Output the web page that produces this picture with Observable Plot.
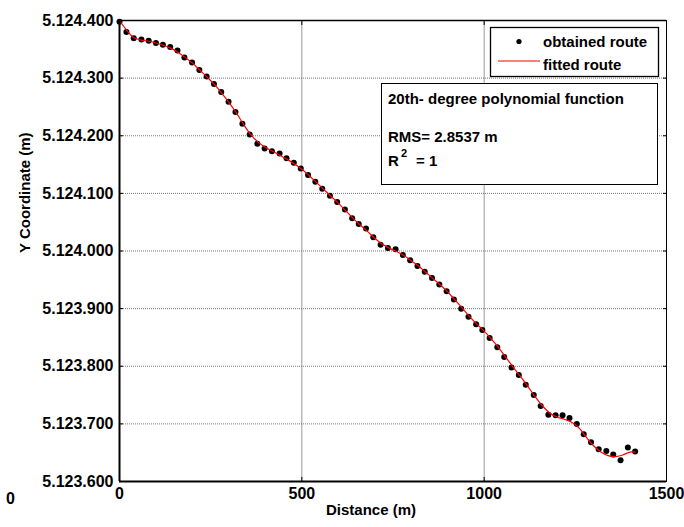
<!DOCTYPE html>
<html><head><meta charset="utf-8">
<script src="https://cdn.jsdelivr.net/npm/d3@7"></script>
<script src="https://cdn.jsdelivr.net/npm/@observablehq/plot@0.6"></script>
<style>
body{margin:0;background:#fff;}
#wrap{position:relative;width:684px;height:527px;font-family:"Liberation Sans",Arial,sans-serif;font-weight:bold;}
#overlay{position:absolute;left:0;top:0;pointer-events:none;}
</style></head><body><div id="wrap"></div>
<script>
// obtained route (distance in m, Y coordinate in m)
const distance = [0,19,39,60,80,100,119,139,159,178,199,219,239,259,279,299,318,337,357,378,
  398,418,439,458,478,497,517,537,556,577,597,618,638,656,676,696,716,736,757,777,
  797,817,837,857,877,897,917,937,957,978,995,1015,1036,1055,1075,1095,1114,1136,1155,1176,
  1196,1215,1234,1254,1273,1293,1314,1335,1354,1374,1394,1414];
const yObtained = [5124398,5124380,5124369,5124367,5124365,5124361,5124358,5124354,5124348,5124336,
  5124327,5124314,5124303,5124290,5124276,5124259,5124241,5124221,5124202,5124186,
  5124178,5124173,5124169,5124161,5124153,5124143,5124132,5124120,5124108,5124096,
  5124085,5124072,5124057,5124047,5124039,5124024,5124011,5124005,5124003,5123993,
  5123984,5123974,5123964,5123953,5123942,5123930,5123916,5123900,5123886,5123873,
  5123863,5123849,5123833,5123816,5123798,5123785,5123768,5123750,5123731,5123716,
  5123715,5123715,5123710,5123700,5123682,5123668,5123656,5123653,5123647,5123637,
  5123659,5123652];
// fitted route (20th-degree polynomial)
const fitDistance = [0,20,40,60,80,100,120,140,160,180,200,220,240,260,280,300,320,340,360,380,
  400,420,440,460,480,500,520,540,560,580,600,620,640,660,680,700,720,740,760,780,
  800,820,840,860,880,900,920,940,960,980,1000,1020,1040,1060,1080,1100,1120,1140,1160,1180,
  1200,1220,1240,1260,1280,1300,1320,1340,1360,1380,1400,1414];
const yFitted = [5124400,5124383,5124370,5124366,5124364,5124361,5124357,5124352,5124345,5124336,
  5124326,5124314,5124302,5124289,5124274,5124258,5124240,5124220,5124202,5124189,
  5124180,5124173,5124166,5124159,5124151,5124142,5124131,5124119,5124107,5124095,
  5124083,5124070,5124057,5124045,5124034,5124022,5124012,5124005,5123999,5123992,
  5123983,5123974,5123963,5123952,5123941,5123929,5123915,5123901,5123886,5123873,
  5123861,5123847,5123832,5123815,5123798,5123782,5123765,5123747,5123731,5123719,
  5123712,5123708,5123703,5123693,5123677,5123662,5123651,5123645,5123643,5123646,
  5123651,5123651];
const xTicks = [0,500,1000,1500];
const yTicks = [5123600,5123700,5123800,5123900,5124000,5124100,5124200,5124300,5124400];
const xLabel = "Distance (m)";
const yLabel = "Y Coordinate (m)";
const legendLabels = ["obtained route","fitted route"];
const noteTitle = "20th- degree polynomial function";
const noteRms = "RMS= 2.8537 m";
const noteR2 = ["R","2","= 1"];
const strayLabel = "0";

const fmt = d3.formatLocale({decimal:",", thousands:".", grouping:[3], currency:["",""]}).format(",d");
const obtained = distance.map((d,i)=>({x:d, y:yObtained[i]}));
const fitted = fitDistance.map((d,i)=>({x:d, y:yFitted[i]}));

const chart = Plot.plot({
  width:684, height:527, marginLeft:119, marginRight:18, marginTop:20, marginBottom:46,
  style:{fontFamily:'"Liberation Sans", Arial, sans-serif', fontSize:"15px", fontWeight:"bold", color:"#000", background:"#fff", overflow:"visible"},
  x:{domain:[0,1500]},
  y:{domain:[5123600,5124400]},
  marks:[
    Plot.gridX(xTicks.slice(1,-1), {stroke:"#999", strokeOpacity:1, strokeWidth:1}),
    Plot.gridY(yTicks.slice(1,-1), {stroke:"#777", strokeOpacity:1, strokeWidth:1, strokeDasharray:"1,1"}),
    Plot.axisX(xTicks, {anchor:"bottom", tickSize:-4, tickFormat:()=>"", label:null}),
    Plot.axisX(xTicks, {anchor:"top", tickSize:-4, tickFormat:()=>"", label:null}),
    Plot.axisY(yTicks, {anchor:"left", tickSize:-4, tickFormat:()=>"", label:null}),
    Plot.axisY(yTicks, {anchor:"right", tickSize:-4, tickFormat:()=>"", label:null}),
    Plot.axisX(xTicks, {anchor:"bottom", tickSize:0, tickPadding:6, tickFormat:d=>String(d), label:null, fontSize:16}),
    Plot.axisY(yTicks, {anchor:"left", tickSize:0, tickPadding:6, tickFormat:fmt, label:null, fontSize:16}),
    Plot.text([xLabel], {frameAnchor:"bottom", dy:33, dx:-22, fontSize:15, fontWeight:"bold"}),
    Plot.text([yLabel], {frameAnchor:"left", rotate:-90, dx:-94, dy:2, fontSize:15, fontWeight:"bold"}),
    Plot.dot(obtained, {x:"x", y:"y", r:3, fill:"black", stroke:"none"}),
    Plot.line(fitted, {x:"x", y:"y", stroke:"#ff0000", strokeWidth:1.2, curve:"catmull-rom"}),
    Plot.frame({stroke:"black", strokeWidth:1}),
    Plot.ruleX([0], {stroke:"black", strokeWidth:2}),
    Plot.ruleY([5123600], {stroke:"black", strokeWidth:2}),
    Plot.ruleY([5124400], {stroke:"black", strokeWidth:1.5})
  ]
});
const wrap = document.getElementById("wrap");
wrap.appendChild(chart);

// overlay: legend + annotation boxes
const ov = d3.select(wrap).append("svg").attr("id","overlay").attr("width",684).attr("height",527)
  .style("font-family",'"Liberation Sans", Arial, sans-serif').style("font-weight","bold").style("font-size","15px");
// legend box
ov.append("rect").attr("x",490.5).attr("y",27.5).attr("width",168).attr("height",49).attr("fill","#fff").attr("stroke","#000").attr("stroke-width",1.3);
ov.append("circle").attr("cx",519).attr("cy",41.5).attr("r",2.6).attr("fill","#000");
ov.append("text").attr("x",543).attr("y",47).text(legendLabels[0]);
ov.append("line").attr("x1",498).attr("x2",540).attr("y1",61).attr("y2",61).attr("stroke","#ff0000").attr("stroke-width",1.2);
ov.append("text").attr("x",543).attr("y",70).text(legendLabels[1]);
// annotation box
ov.append("rect").attr("x",381.5).attr("y",83.5).attr("width",276).attr("height",101).attr("fill","#fff").attr("stroke","#000").attr("stroke-width",1);
ov.append("text").attr("x",388).attr("y",104).text(noteTitle);
ov.append("text").attr("x",388).attr("y",142).text(noteRms);
const r2 = ov.append("text").attr("x",388).attr("y",166);
r2.append("tspan").text(noteR2[0]);
r2.append("tspan").attr("x",401).attr("y",157).style("font-size","11px").text(noteR2[1]);
r2.append("tspan").attr("x",416).attr("y",166).text(noteR2[2]);
// stray label at bottom-left
ov.append("text").attr("x",6).attr("y",504).style("font-size","16px").text(strayLabel);
</script>
</body></html>
